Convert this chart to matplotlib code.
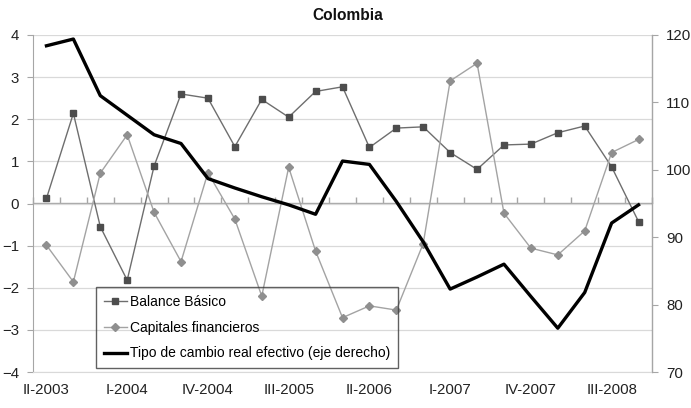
import matplotlib
matplotlib.use("Agg")
import matplotlib.pyplot as plt
import numpy as np

plt.rcParams['font.family'] = ['Liberation Sans', 'DejaVu Sans']

quarters = ["II-2003", "III-2003", "IV-2003", "I-2004", "II-2004", "III-2004", "IV-2004",
            "I-2005", "II-2005", "III-2005", "IV-2005", "I-2006", "II-2006", "III-2006",
            "IV-2006", "I-2007", "II-2007", "III-2007", "IV-2007", "I-2008", "II-2008",
            "III-2008", "IV-2008"]

balance_basico = [0.12, 2.14, -0.55, -1.82, 0.89, 2.60, 2.50, 1.35, 2.47, 2.05, 2.66, 2.77,
                  1.33, 1.79, 1.82, 1.21, 0.81, 1.39, 1.41, 1.68, 1.84, 0.87, -0.43]

capitales_fin = [-0.99, -1.86, 0.72, 1.63, -0.21, -1.38, 0.73, -0.37, -2.20, 0.86, -1.13,
                 -2.71, -2.43, -2.53, -0.95, 2.91, 3.33, -0.23, -1.06, -1.22, -0.65, 1.21, 1.52]

tcre = [118.4, 119.4, 111.0, 108.1, 105.2, 103.9, 98.7, 97.3, 96.0, 94.8, 93.4, 101.3,
        100.8, 95.3, 89.3, 82.3, 84.1, 86.0, 81.2, 76.5, 81.8, 92.1, 94.8]

label_every = 3

fig = plt.figure(figsize=(6.91, 4.08), dpi=100)
ax = fig.add_axes([33/691, 1-372/408, (652-33)/691, (372-35)/408])
x = np.arange(len(quarters))

grid_c = "#d9d9d9"
spine_c = "#a6a6a6"

l1, = ax.plot(x, balance_basico, color="#6e6e6e", lw=1.0, marker="s", ms=4.2,
              mfc="#4d4d4d", mec="#4d4d4d", label="Balance Básico", zorder=3)
l2, = ax.plot(x, capitales_fin, color="#a3a3a3", lw=1.0, marker="D", ms=4.2,
              mfc="#8f8f8f", mec="#8f8f8f", label="Capitales financieros", zorder=3)

ax.set_xlim(-0.5, len(quarters)-0.5)
ax.set_ylim(-4, 4)
ax.set_yticks(np.arange(-4, 5, 1))
ax.yaxis.grid(True, color=grid_c, lw=0.9)
ax.set_axisbelow(True)

ax.set_xticks(x[::label_every])
ax.set_xticklabels(quarters[::label_every])
ax.tick_params(axis='x', length=0, pad=8, labelsize=10.8, colors="#222222")
ax.tick_params(axis='y', direction='out', length=4, color=spine_c, labelsize=10.8,
               labelcolor="#222222", pad=6)

ax.spines['top'].set_visible(False)
ax.spines['bottom'].set_color(grid_c)
ax.spines['left'].set_color(spine_c)

# horizontal category axis crossing at zero
sec = ax.secondary_xaxis(0.5)
sec.set_xticks(np.arange(len(quarters)+1) - 0.5)
sec.set_xticklabels([])
sec.tick_params(direction='out', length=4, color=spine_c, width=1)
for s in sec.spines.values():
    s.set_color(spine_c)
    s.set_linewidth(1.0)

ax2 = ax.twinx()
l3, = ax2.plot(x, tcre, color="black", lw=2.4, label="Tipo de cambio real efectivo (eje derecho)",
               zorder=4)
ax2.set_ylim(70, 120)
ax2.set_yticks(np.arange(70, 121, 10))
ax2.tick_params(axis='y', direction='out', length=4, color=spine_c, labelsize=10.8,
                labelcolor="#222222", pad=6)
for s in ['top', 'left', 'bottom']:
    ax2.spines[s].set_visible(False)
ax2.spines['right'].set_color(spine_c)

leg = ax2.legend(handles=[l1, l2, l3], loc='lower left',
                 bbox_to_anchor=((96-33)/619, (372-368)/337), fontsize=10,
                 frameon=True, fancybox=False, edgecolor="#3a3a3a", facecolor='none',
                 handlelength=1.7, handletextpad=0.2, labelspacing=0.85,
                 borderpad=0.55, borderaxespad=0)
leg.get_frame().set_linewidth(1.0)

fig.text(348/691, 1-15/408, "Colombia", ha='center', va='center', fontsize=11.2,
         fontweight='bold', color="#111111")

fig.savefig("out.png", dpi=100)
